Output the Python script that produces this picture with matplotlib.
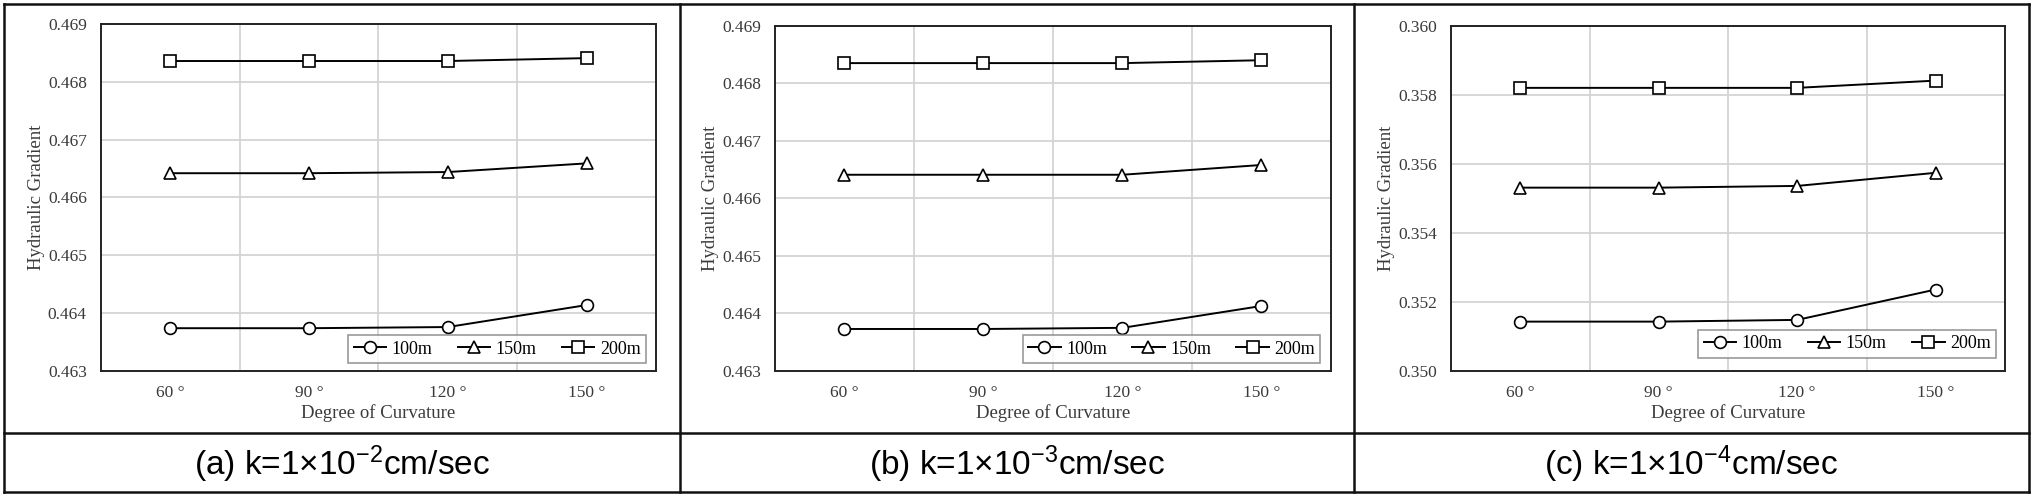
import matplotlib
matplotlib.use("Agg")
import matplotlib.pyplot as plt
from matplotlib.lines import Line2D
import numpy as np

# ---- data ----
categories = ["60 °", "90 °", "120 °", "150 °"]
series_names = ["100m", "150m", "200m"]

a_100 = [0.46374, 0.46374, 0.46376, 0.46414]
a_150 = [0.46642, 0.46642, 0.46644, 0.46659]
a_200 = [0.46836, 0.46836, 0.46836, 0.46841]

b_100 = [0.46373, 0.46373, 0.46375, 0.46413]
b_150 = [0.46641, 0.46641, 0.46641, 0.46658]
b_200 = [0.46835, 0.46835, 0.46835, 0.46840]

c_100 = [0.35143, 0.35143, 0.35148, 0.35236]
c_150 = [0.35531, 0.35531, 0.35536, 0.35574]
c_200 = [0.35820, 0.35820, 0.35820, 0.35841]

ab_ticks = [0.463, 0.464, 0.465, 0.466, 0.467, 0.468, 0.469]
c_ticks = [0.350, 0.352, 0.354, 0.356, 0.358, 0.360]

captions = [r"(a) k=1×10$^{-2}$cm/sec",
            r"(b) k=1×10$^{-3}$cm/sec",
            r"(c) k=1×10$^{-4}$cm/sec"]

plt.rcParams["mathtext.fontset"] = "custom"
plt.rcParams["mathtext.rm"] = "Liberation Sans"
plt.rcParams["mathtext.it"] = "Liberation Sans"
plt.rcParams["mathtext.default"] = "regular"

W, H = 2033, 497
fig = plt.figure(figsize=(W / 100, H / 100), dpi=100)

def rect(l, t, r, b):
    return [l / W, 1 - b / H, (r - l) / W, (b - t) / H]

panels = [
    (rect(100.7, 24, 656, 371), [a_100, a_150, a_200], ab_ticks, (0.982, 0.023)),
    (rect(775, 25.7, 1331, 371), [b_100, b_150, b_200], ab_ticks, (0.981, 0.023)),
    (rect(1451, 25.7, 2005, 371), [c_100, c_150, c_200], c_ticks, (0.984, 0.038)),
]
markers = ["o", "^", "s"]
msizes = [8.5, 8.5, 8.0]
serif = "Liberation Serif"
txtcol = "#3a3a3a"

x = np.arange(len(categories))
for pos, series, yticks, lpos in panels:
    ax = fig.add_axes(pos)
    for vals, name, m, ms in zip(series, series_names, markers, msizes):
        ax.plot(x, vals, color="black", lw=1.4, marker=m, ms=ms,
                mfc="white", mec="black", mew=1.2, label=name, zorder=3)
    ax.set_xlim(-0.5, 3.5)
    ax.set_ylim(yticks[0], yticks[-1])
    ax.set_yticks(yticks)
    ax.set_yticklabels([f"{t:.3f}" for t in yticks], family=serif,
                       fontsize=12.5, color=txtcol)
    ax.set_xticks(x)
    ax.set_xticklabels(categories, family=serif, fontsize=12.5, color=txtcol)
    ax.set_xticks([0.5, 1.5, 2.5], minor=True)
    ax.tick_params(axis="both", which="both", length=0)
    ax.tick_params(axis="y", pad=10)
    ax.tick_params(axis="x", pad=10)
    ax.grid(True, axis="y", which="major", color="#d4d4d4", lw=1.3, zorder=0)
    ax.grid(True, axis="x", which="minor", color="#d4d4d4", lw=1.3, zorder=0)
    for s in ax.spines.values():
        s.set_color("#222222")
        s.set_linewidth(1.4)
    ax.set_xlabel("Degree of Curvature", family=serif, fontsize=13.5,
                  color=txtcol, labelpad=2)
    ax.set_ylabel("Hydraulic Gradient", family=serif, fontsize=13.5,
                  color=txtcol, labelpad=2)
    leg = ax.legend(loc="lower right", bbox_to_anchor=lpos, ncol=3,
                    prop={"family": serif, "size": 13}, frameon=True,
                    fancybox=False, edgecolor="#808080", handlelength=1.8,
                    handletextpad=0.3, columnspacing=1.4, borderpad=0.3,
                    borderaxespad=0)
    leg.get_frame().set_linewidth(1.2)

# ---- table-like frame ----
def fx(px):
    return px / W

def fy(py):
    return 1 - py / H

lw_frame = 1.8
for (x0, y0, x1, y1) in [
    (4, 4, 2029, 4), (4, 492, 2029, 492), (4, 4, 4, 492), (2029, 4, 2029, 492),
    (4, 433, 2029, 433), (680, 4, 680, 492), (1354, 4, 1354, 492),
]:
    fig.add_artist(Line2D([fx(x0), fx(x1)], [fy(y0), fy(y1)],
                          color="#111111", lw=lw_frame,
                          transform=fig.transFigure))

cells = [(4, 680), (680, 1354), (1354, 2029)]
for (l, r), cap in zip(cells, captions):
    fig.text(fx((l + r) / 2), fy(464), cap, ha="center", va="center",
             family="Liberation Sans", fontsize=24, color="black")

fig.savefig("out.png", dpi=100)
